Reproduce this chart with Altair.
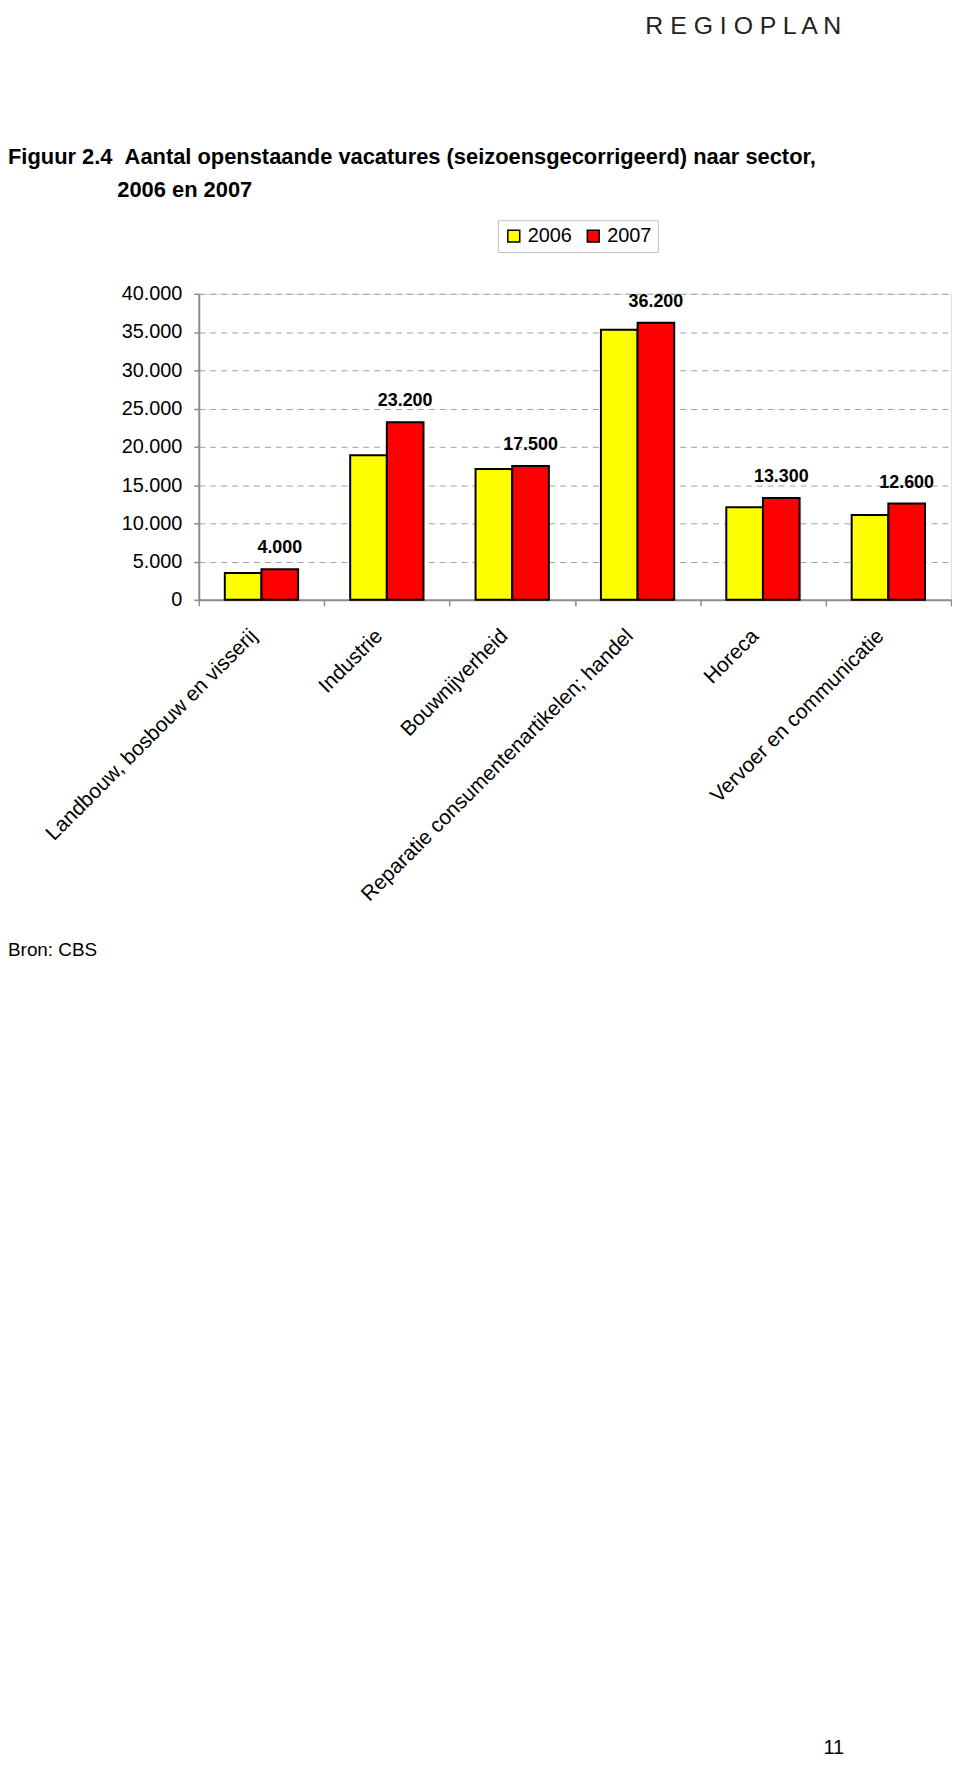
import altair as alt
import pandas as pd

# ---- data ----
sectors = [
    "Landbouw, bosbouw en visserij",
    "Industrie",
    "Bouwnijverheid",
    "Reparatie consumentenartikelen; handel",
    "Horeca",
    "Vervoer en communicatie",
]
years = ["2006", "2007"]
values_2006 = [3500, 18900, 17100, 35300, 12100, 11100]
values_2007 = [4000, 23200, 17500, 36200, 13300, 12600]
y_ticks = [0, 5000, 10000, 15000, 20000, 25000, 30000, 35000, 40000]
colors = ["#ffff00", "#ff0000"]

title_line1 = "Figuur 2.4\u00a0\u00a0Aantal openstaande vacatures (seizoensgecorrigeerd) naar sector,"
title_line2 = "2006 en 2007"
source_text = "Bron: CBS"
page_number = "11"
logo_text = "R E G I O P L A N"

FONT = "Liberation Sans"
GRAY = "#8c8c8c"

rows = []
for i, s in enumerate(sectors):
    rows.append({"sector": s, "year": years[0], "value": values_2006[i]})
    rows.append({"sector": s, "year": years[1], "value": values_2007[i]})
df = pd.DataFrame(rows)

lab = pd.DataFrame({
    "sector": sectors,
    "year": [years[1]] * len(sectors),
    "value": values_2007,
    "label": [f"{v:,}".replace(",", ".") for v in values_2007],
})

x_enc = alt.X(
    "sector:N",
    sort=sectors,
    scale=alt.Scale(paddingInner=0, paddingOuter=0),
    axis=alt.Axis(
        title=None, labelAngle=-45, labelAlign="right", labelBaseline="middle",
        labelFontSize=21, labelFont=FONT, labelColor="black", labelLimit=900,
        labelOverlap=False, labelPadding=27, labelOffset=-8, tickBand="extent",
        tickSize=6, tickColor=GRAY, tickWidth=1.5, domainColor=GRAY,
        domainWidth=2, grid=False,
    ),
)
xo_enc = alt.XOffset(
    "year:N", scale=alt.Scale(domain=years, paddingOuter=0.71, paddingInner=0)
)
y_enc = alt.Y(
    "value:Q",
    scale=alt.Scale(domain=[0, 40000], nice=False),
    axis=alt.Axis(
        title=None, values=y_ticks,
        labelExpr="replace(format(datum.value, ','), ',', '.')",
        labelFontSize=20, labelFont=FONT, labelColor="black", labelPadding=12,
        tickSize=5, tickColor=GRAY, tickWidth=1.5, domainColor=GRAY, domainWidth=2,
        grid=True, gridDash=[6, 5], gridColor="#a0a0a0", gridWidth=1,
    ),
)

bars = alt.Chart(df).mark_bar(stroke="black", strokeWidth=2).encode(
    x=x_enc,
    xOffset=xo_enc,
    y=y_enc,
    color=alt.Color(
        "year:N",
        scale=alt.Scale(domain=years, range=colors),
        legend=alt.Legend(
            title=None, orient="none", legendX=301, legendY=-74,
            direction="horizontal", strokeColor="#c0c0c0",
            fillColor="white", padding=6, symbolType="square", symbolSize=144,
            symbolStrokeColor="black", symbolStrokeWidth=1.5,
            labelFontSize=20, labelFont=FONT, labelColor="black",
            labelOffset=4, columnPadding=11,
        ),
    ),
)

labels = alt.Chart(lab).mark_text(
    fontWeight="bold", fontSize=18, font=FONT, dy=-21, baseline="middle", color="black"
).encode(x=x_enc, xOffset=xo_enc, y=y_enc, text="label:N")


def note(text, x, y, size, weight="normal", align="left", color="black"):
    return alt.Chart(pd.DataFrame({"t": [text]})).mark_text(
        align=align, baseline="alphabetic", fontSize=size, fontWeight=weight,
        font=FONT, color=color,
    ).encode(x=alt.value(x), y=alt.value(y), text="t:N")


notes = [
    note(title_line1, -192, -131, 22, "bold"),
    note(title_line2, -82, -97, 22, "bold"),
    note(source_text, -192, 666, 19),
    note(page_number, 639, 1470, 20, align="center"),
    note(logo_text, 548, -261, 25, align="center", color="#222222"),
]

chart = alt.layer(bars, labels, *notes).properties(
    width=757,
    height=308,
    autosize=alt.AutoSizeParams(type="none"),
    padding={"left": 192, "top": 282, "right": 1, "bottom": 1164},
).configure_view(stroke=GRAY, strokeWidth=2).configure(background="white")

chart.save("out.html", embed_options={"renderer": "svg", "actions": False})
